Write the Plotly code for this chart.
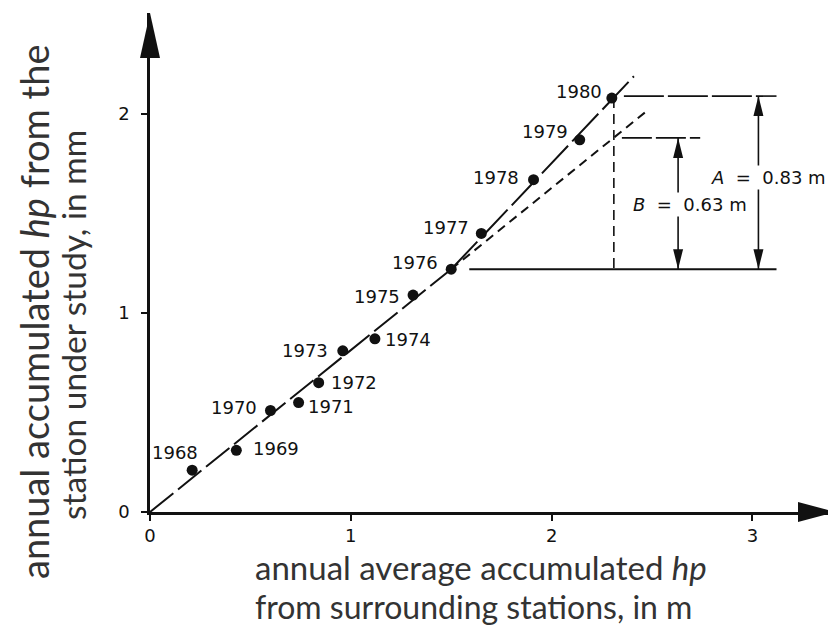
import plotly.graph_objects as go

# ---------------- data ----------------
years = [1968, 1969, 1970, 1971, 1972, 1973, 1974, 1975, 1976, 1977, 1978, 1979, 1980]
x_surround = [0.21, 0.43, 0.60, 0.74, 0.84, 0.96, 1.12, 1.31, 1.50, 1.65, 1.91, 2.14, 2.30]
y_station = [0.21, 0.31, 0.51, 0.55, 0.65, 0.81, 0.87, 1.09, 1.22, 1.40, 1.67, 1.87, 2.08]

# trend lines (double-mass curve): before and after the break in 1976
trend_before_x = [0.0, 1.50]
trend_before_y = [0.0, 1.22]
trend_after_x = [1.50, 2.41]
trend_after_y = [1.22, 2.19]
trend_extended_x = [1.50, 2.48]
trend_extended_y = [1.22, 2.02]

# construction levels for the A / B dimensions
level_base = 1.22
level_A = 2.09
level_B = 1.88
guide_x = 2.31
base_line_x = [1.59, 3.12]
A_line_x = [2.36, 3.12]
B_line_x = [2.35, 2.74]
A_arrow_x = 3.03
B_arrow_x = 2.63
A_value = "0.83 m"
B_value = "0.63 m"

x_ticks = [0, 1, 2, 3]
y_ticks = [0, 1, 2]

x_title = ["annual average accumulated <i>hp</i>", "from surrounding stations, in m"]
y_title = ["annual accumulated <i>hp</i> from the", "station under study, in mm"]

# ---------------- styling ----------------
# label placement per point: (xanchor, xshift px, yshift px)
label_place = [
    ("center", -17, 18), ("left", 15, 2), ("right", -11, 3), ("left", 7, -4),
    ("left", 10, 0), ("right", -13, 0), ("left", 8, -1), ("right", -11, -1),
    ("right", -11, 7), ("right", -10, 6), ("right", -13, 2), ("right", -10, 8),
    ("right", -8, 7),
]
NUM_FONT = dict(family="DejaVu Sans", size=18, color="#111")
TITLE_FONT = dict(family="Lato", size=33, color="#333")
INK = "#111"

X_MAX = 686 / 200.8
Y_MAX = 499 / 199.0

fig = go.Figure()

fig.add_trace(go.Scatter(x=trend_before_x, y=trend_before_y, mode="lines",
                         line=dict(color=INK, width=2, dash="30px,6px")))
fig.add_trace(go.Scatter(x=trend_after_x, y=trend_after_y, mode="lines",
                         line=dict(color=INK, width=2, dash="38px,6px")))
fig.add_trace(go.Scatter(x=trend_extended_x, y=trend_extended_y, mode="lines",
                         line=dict(color=INK, width=2, dash="9px,6px")))

# construction lines
fig.add_trace(go.Scatter(x=base_line_x, y=[level_base, level_base], mode="lines",
                         line=dict(color=INK, width=2)))
fig.add_trace(go.Scatter(x=A_line_x, y=[level_A, level_A], mode="lines",
                         line=dict(color=INK, width=1.6, dash="40px,4px")))
fig.add_trace(go.Scatter(x=B_line_x, y=[level_B, level_B], mode="lines",
                         line=dict(color=INK, width=1.6, dash="30px,4px")))
fig.add_trace(go.Scatter(x=[guide_x, guide_x], y=[y_station[-1], level_base], mode="lines",
                         line=dict(color=INK, width=1.6, dash="10px,6px")))
for ax_x, top in [(A_arrow_x, level_A), (B_arrow_x, level_B)]:
    fig.add_trace(go.Scatter(x=[ax_x, ax_x], y=[top, level_base], mode="lines",
                             line=dict(color=INK, width=1.6)))
    fig.add_shape(type="path", xref="x", yref="y", xsizemode="pixel", ysizemode="pixel",
                  xanchor=ax_x, yanchor=top, path="M0,0 L-5,-20 L5,-20 Z",
                  fillcolor=INK, line=dict(width=0))
    fig.add_shape(type="path", xref="x", yref="y", xsizemode="pixel", ysizemode="pixel",
                  xanchor=ax_x, yanchor=level_base, path="M0,0 L-5,20 L5,20 Z",
                  fillcolor=INK, line=dict(width=0))

# data points
fig.add_trace(go.Scatter(x=x_surround, y=y_station, mode="markers",
                         marker=dict(size=11, color=INK), cliponaxis=False))

for yr, xv, yv, (anc, dx, dy) in zip(years, x_surround, y_station, label_place):
    fig.add_annotation(x=xv, y=yv, text=str(yr), showarrow=False, xanchor=anc,
                       xshift=dx, yshift=dy, font=NUM_FONT)

# A / B labels (white box breaks the arrow line)
NB = "\u00a0"
fig.add_annotation(x=3.08, y=1.68, text=f"<i>A</i>{NB}{NB}={NB}{NB}{A_value}", showarrow=False,
                   font=NUM_FONT, bgcolor="white")
fig.add_annotation(x=2.69, y=1.545, text=f"<i>B</i>{NB}{NB}={NB}{NB}{B_value}", showarrow=False,
                   font=NUM_FONT, bgcolor="white")

# axis arrowheads
fig.add_shape(type="path", xref="paper", yref="paper", xsizemode="pixel", ysizemode="pixel",
              xanchor=1, yanchor=0, path="M0,0 L-38,10 L-38,-10 Z",
              fillcolor=INK, line=dict(width=0))
fig.add_shape(type="path", xref="paper", yref="paper", xsizemode="pixel", ysizemode="pixel",
              xanchor=0, yanchor=1, path="M0,0 L-10,-45 L10,-45 Z",
              fillcolor=INK, line=dict(width=0))

# axis titles
x_title_text = ("<span style='font-size:33px'>" + x_title[0] + "</span><br>"
                "<span style='font-size:32px'>" + x_title[1] + "</span>")
fig.add_annotation(xref="paper", yref="paper", x=104 / 686, y=0, xanchor="left", yanchor="bottom",
                   yshift=-115, text=x_title_text, align="left", showarrow=False,
                   font=dict(TITLE_FONT, size=30), borderpad=0)
fig.add_annotation(xref="paper", yref="paper", x=0, y=0, xanchor="center", yanchor="middle",
                   xshift=-116, yshift=200, textangle=-90, text=y_title[0], showarrow=False,
                   font=dict(TITLE_FONT, size=38), borderpad=0)
fig.add_annotation(xref="paper", yref="paper", x=0, y=0, xanchor="center", yanchor="middle",
                   xshift=-77, yshift=187, textangle=-90, text=y_title[1], showarrow=False,
                   font=dict(TITLE_FONT, size=33.5), borderpad=0)

fig.update_layout(
    width=836, height=629,
    margin=dict(l=142, r=8, t=5, b=125),
    paper_bgcolor="white", plot_bgcolor="white",
    showlegend=False,
    xaxis=dict(range=[0, X_MAX], tickvals=x_ticks, ticktext=[str(t) for t in x_ticks],
               showgrid=False, zeroline=False, showline=True, linecolor=INK, linewidth=2.5,
               ticks="outside", ticklen=6, tickwidth=1.5, tickcolor=INK,
               tickfont=NUM_FONT, ticklabelstandoff=0),
    yaxis=dict(range=[0, Y_MAX], tickvals=y_ticks, ticktext=[str(t) for t in y_ticks],
               showgrid=False, zeroline=False, showline=True, linecolor=INK, linewidth=2.5,
               ticks="outside", ticklen=6, tickwidth=1.5, tickcolor=INK,
               tickfont=NUM_FONT, ticklabelstandoff=8),
)

fig.write_html("out.html")
